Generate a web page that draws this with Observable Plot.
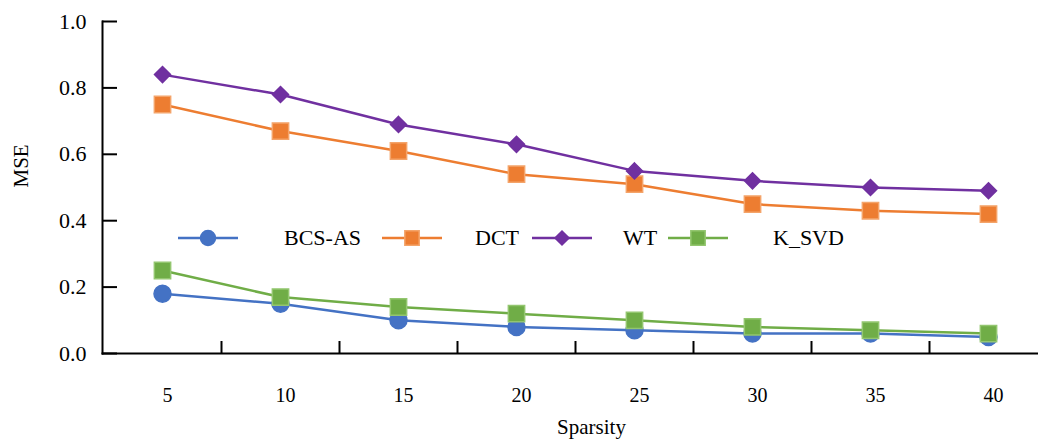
<!DOCTYPE html>
<html><head><meta charset="utf-8">
<script src="https://cdn.jsdelivr.net/npm/d3@7"></script>
<script src="https://cdn.jsdelivr.net/npm/@observablehq/plot@0.6"></script>
<style>
html,body{margin:0;padding:0;background:#fff;}
#wrap{position:relative;width:1038px;height:439px;overflow:hidden;}
.legtext{position:absolute;font-family:'Liberation Serif','Times New Roman','DejaVu Serif','Noto Serif',serif;font-size:22px;color:#000;line-height:22px;white-space:nowrap;}
.legsym{position:absolute;}
#wrap svg text{font-family:'Liberation Serif','Times New Roman','DejaVu Serif','Noto Serif',serif;}
</style></head><body><div id="wrap"></div>
<script>
const sparsity = [5, 10, 15, 20, 25, 30, 35, 40];
const seriesNames = ["BCS-AS", "DCT", "WT", "K_SVD"];
const bcsAs = [0.18, 0.15, 0.10, 0.08, 0.07, 0.06, 0.06, 0.05];
const dct   = [0.75, 0.67, 0.61, 0.54, 0.51, 0.45, 0.43, 0.42];
const wt    = [0.84, 0.78, 0.69, 0.63, 0.55, 0.52, 0.50, 0.49];
const kSvd  = [0.25, 0.17, 0.14, 0.12, 0.10, 0.08, 0.07, 0.06];
const yTicks = [0, 0.2, 0.4, 0.6, 0.8, 1.0];
const colors = ["#4472C4", "#ED7D31", "#7030A0", "#70AD47"];
const borders = ["#4472C4", "#F4A46A", "#7030A0", "#93C66F"];
const symbols = ["circle", "square", "diamond2", "square"];
const radii = [8.5, 9.2, 7.2, 9.2];

const seriesValues = [bcsAs, dct, wt, kSvd];
const rows = seriesNames.flatMap((name, k) =>
  seriesValues[k].map((v, i) => ({i, s: sparsity[i], v, series: name})));

const W = 1038, H = 439, mL = 102, mR = 0, mT = 21, mB = 86;
const frameW = W - mL - mR, frameH = H - mT - mB;
const serif = "'Liberation Serif','Times New Roman','DejaVu Serif','Noto Serif',serif";
const boundaries = sparsity.slice(1).map((_, i) => i + 0.5);

const marks = [];
seriesNames.forEach((name, k) => {
  const data = rows.filter(d => d.series === name);
  marks.push(Plot.line(data, {x: "i", y: "v", stroke: colors[k], strokeWidth: 2.5}));
  marks.push(Plot.dot(data, {x: "i", y: "v", symbol: symbols[k], r: radii[k], fill: colors[k], stroke: borders[k], strokeWidth: 1.5}));
});

const chart = Plot.plot({
  width: W, height: H,
  marginLeft: mL, marginRight: mR, marginTop: mT, marginBottom: mB,
  style: {fontFamily: serif, background: "#fff", color: "#000"},
  x: {type: "linear", domain: [0, sparsity.length - 1], range: [162, 988], axis: null},
  y: {domain: [0, 1], axis: null},
  marks: [
    Plot.frame({anchor: "left", stroke: "#000", strokeWidth: 2}),
    Plot.frame({anchor: "bottom", stroke: "#000", strokeWidth: 2}),
    Plot.ruleY(yTicks, {y: d => d, insetRight: frameW - 15, stroke: "#000", strokeWidth: 2}),
    Plot.ruleX(boundaries, {x: d => d, insetTop: frameH - 12, stroke: "#000", strokeWidth: 2}),
    Plot.axisY(yTicks, {tickSize: 0, tickPadding: 16, tickFormat: d => d.toFixed(1), fontSize: 22, label: null}),
    Plot.axisX(sparsity.map((_, i) => i), {tickSize: 0, tickPadding: 34, tickFormat: i => sparsity[i], fontSize: 20, dx: 5, label: null}),
    Plot.text(["Sparsity"], {x: (sparsity.length - 1) / 2, frameAnchor: "bottom", dy: 80, dx: 16, fontSize: 21}),
    Plot.text(["MSE"], {frameAnchor: "left", rotate: -90, dx: -81, fontSize: 21}),
    ...marks
  ]
});
const wrap = document.getElementById("wrap");
wrap.appendChild(chart);

// legend overlay
const legY = 238;
const lineX = [178, 382, 532, 668];
const textX = [284, 475, 623, 773];
seriesNames.forEach((name, k) => {
  const sym = d3.create("svg").attr("class", "legsym")
    .attr("width", 60).attr("height", 20)
    .style("left", lineX[k] + "px").style("top", (legY - 10) + "px");
  sym.append("line").attr("x1", 0).attr("x2", 60).attr("y1", 10).attr("y2", 10)
    .attr("stroke", colors[k]).attr("stroke-width", 2.5);
  const symType = [d3.symbolCircle, d3.symbolSquare, d3.symbolDiamond2, d3.symbolSquare][k];
  const rr = radii[k] * 0.88;
  sym.append("path").attr("transform", "translate(30,10)")
    .attr("d", d3.symbol(symType, rr * rr * Math.PI)())
    .attr("fill", colors[k]).attr("stroke", borders[k]).attr("stroke-width", 1.5);
  wrap.appendChild(sym.node());
  const t = document.createElement("div");
  t.className = "legtext";
  t.textContent = name;
  t.style.left = textX[k] + "px";
  t.style.top = (legY - 11) + "px";
  wrap.appendChild(t);
});
</script></body></html>
